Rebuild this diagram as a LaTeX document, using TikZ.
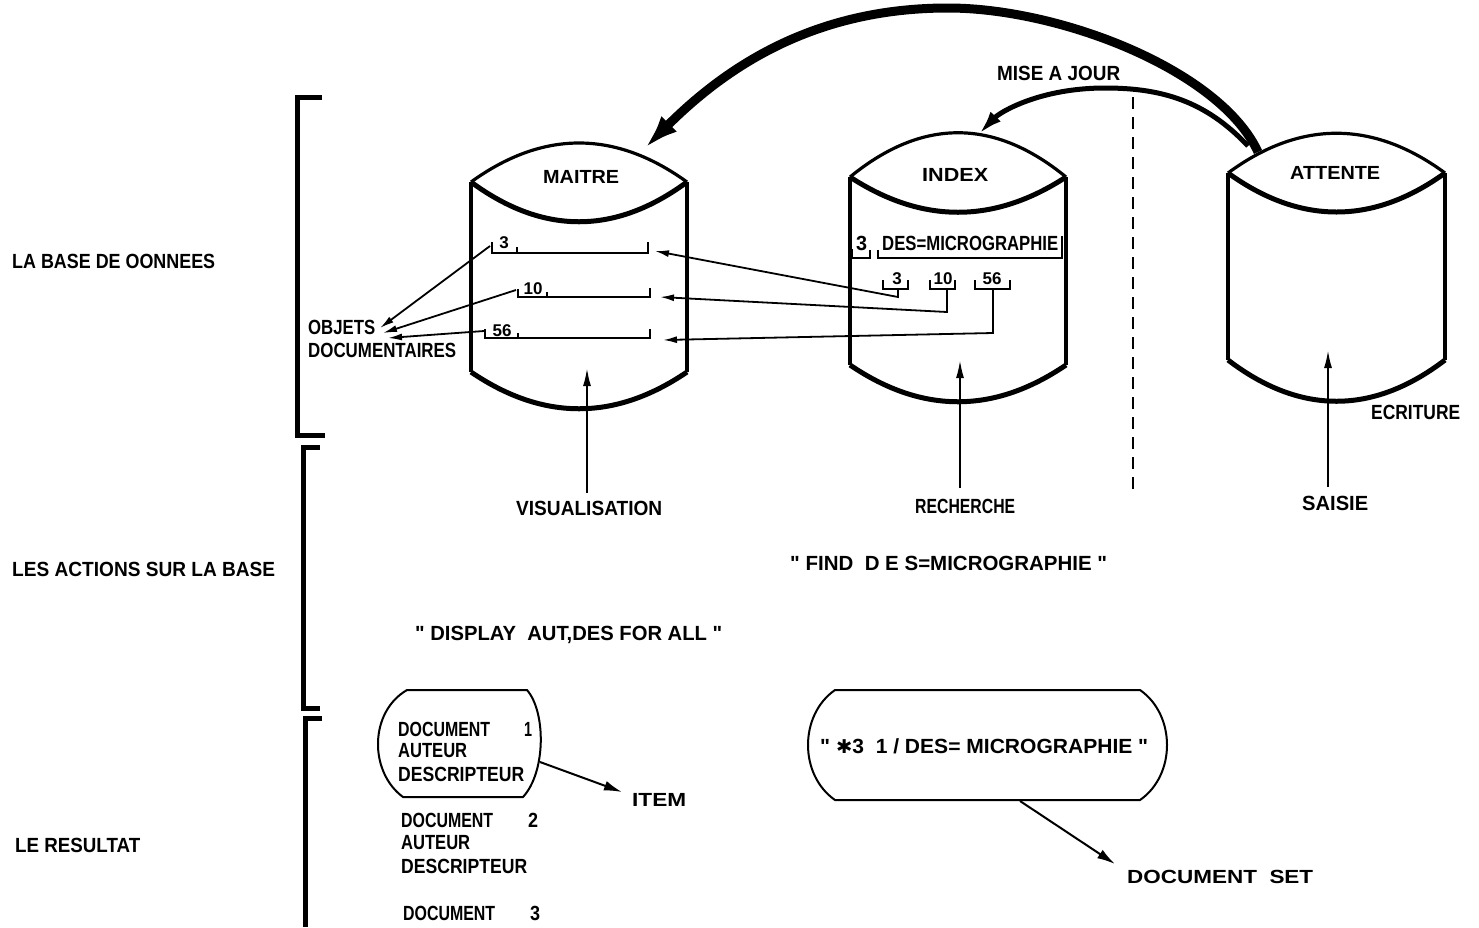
\documentclass[tikz,border=0pt]{standalone}
\usepackage{fontspec}
\setmainfont{Liberation Sans}[Ligatures=TeXOff]
\newfontfamily\symfont{DejaVu Sans}
\usepackage{graphicx}
\usetikzlibrary{arrows.meta}
\newcommand\tw[2]{\resizebox{#1pt}{\height}{#2}}
\newcommand\qq{\symbol{34}}
\begin{document}
\begin{tikzpicture}[x=1pt,y=-1pt,
  lbl/.style={inner sep=0pt, anchor=west, font=\bfseries\fontsize{20.5}{22}\selectfont},
  hdr/.style={inner sep=0pt, anchor=west, font=\bfseries\fontsize{19}{21}\selectfont},
  num/.style={inner sep=0pt, font=\bfseries\fontsize{17}{18}\selectfont},
  brk/.style={line width=5pt},
  cyl/.style={line width=3.2pt, line join=round},
  cylthick/.style={line width=5pt},
  rec/.style={line width=2.4pt},
  conn/.style={line width=1.8pt, -{Latex[length=14pt,width=7pt]}},
  conn2/.style={line width=2pt, -{Latex[length=18pt,width=10pt]}},
  uparr/.style={line width=2pt, -{Latex[length=18pt,width=8pt]}},
  bigarc/.style={line width=9pt, -{Latex[length=34pt,width=22pt]}},
  midarc/.style={line width=5pt, -{Latex[length=24pt,width=14pt]}},
  dsh/.style={line width=2pt, dash pattern=on 12pt off 8pt},
  res/.style={line width=2pt}]
\useasboundingbox (0,0) rectangle (1479,927);

% section brackets
\draw[brk] (322,97) -- (297,97) -- (297,435) -- (325,435);
\draw[brk] (320,447) -- (303,447) -- (303,708) -- (320,708);
\draw[brk] (322,718) -- (305,718) -- (305,927);

% left labels
\node[lbl] (lbase) at (12,261) {\tw{203}{LA BASE DE OONNEES}};
\node[lbl] (lact) at (12,569) {\tw{263}{LES ACTIONS SUR LA BASE}};
\node[lbl] (lres) at (15,845) {\tw{125}{LE RESULTAT}};

% MAITRE cylinder
\draw[cyl] (471,182) .. controls (543,130) and (615,130) .. (687,182);
\draw[cylthick] (471,182) .. controls (543,235) and (615,235) .. (687,182);
\draw[cyl] (471,182) -- (471,372);
\draw[cyl] (687,182) -- (687,372);
\draw[cylthick] (471,372) .. controls (543,421) and (615,421) .. (687,372);
\node[hdr] (tmaitre) at (543,177) {\tw{76}{MAITRE}};

% INDEX cylinder
\draw[cyl] (850,177) .. controls (922,118) and (994,118) .. (1066,177);
\draw[cylthick] (850,177) .. controls (922,224) and (994,224) .. (1066,177);
\draw[cyl] (850,177) -- (850,365);
\draw[cyl] (1066,177) -- (1066,365);
\draw[cylthick] (850,365) .. controls (922,414) and (994,414) .. (1066,365);
\node[hdr] (tindex) at (922,175) {\tw{66}{INDEX}};

% ATTENTE cylinder
\draw[cyl] (1228,173) .. controls (1300,120) and (1373,120) .. (1445,173);
\draw[cylthick] (1228,173) .. controls (1300,225) and (1373,225) .. (1445,173);
\draw[cyl] (1228,173) -- (1228,360);
\draw[cyl] (1445,173) -- (1445,360);
\draw[cylthick] (1228,360) .. controls (1300,415) and (1373,415) .. (1445,360);
\node[hdr] (tattente) at (1290,173) {\tw{90}{ATTENTE}};

% MAITRE records
\draw[rec] (492,242) -- (492,253) -- (648,253) -- (648,242);
\draw[rec] (517,247) -- (517,253);
\node[num] (n3m) at (504,243) {3};
\draw[rec] (518,289) -- (518,297) -- (650,297) -- (650,288);
\draw[rec] (547,292) -- (547,297);
\node[num] (n10m) at (533,289) {10};
\draw[rec] (485,329) -- (485,338) -- (650,338) -- (650,329);
\draw[rec] (518,333) -- (518,338);
\node[num] (n56m) at (502,331) {56};

% INDEX records
\draw[rec] (852,249) -- (852,258) -- (870,258) -- (870,250);
\draw[rec] (878,250) -- (878,258) -- (1062,258) -- (1062,236);
\node[lbl] (i3h) at (856,243) {\tw{11}{3}};
\node[lbl] (ides) at (882,243) {\tw{176}{DES=MICROGRAPHIE}};
\draw[rec] (883,280) -- (883,289) -- (908,289) -- (908,280);
\draw[rec] (930,280) -- (930,289) -- (955,289) -- (955,280);
\draw[rec] (975,280) -- (975,289) -- (1010,289) -- (1010,280);
\node[num] (n3i) at (897,279) {3};
\node[num] (n10i) at (943,279) {10};
\node[num] (n56i) at (992,279) {56};

% connectors index -> maitre
\coordinate (i3) at (898,289);
\coordinate (i10) at (947,289);
\coordinate (i56) at (993,289);
\coordinate (m1) at (655,251);
\coordinate (m2) at (660,297);
\coordinate (m3) at (663,340);
\draw[conn] (i3) -- ++(0,8) -- (m1);
\draw[conn] (i10) -- ++(0,23) -- (m2);
\draw[conn] (i56) -- ++(0,44) -- (m3);

% objets documentaires
\node[lbl] (tobj) at (308,327) {\tw{67}{OBJETS}};
\node[lbl] (tdoc) at (308,350) {\tw{148}{DOCUMENTAIRES}};
\coordinate (r1) at (490,246);
\coordinate (r2) at (516,290);
\coordinate (r3) at (484,331);
\coordinate (o1) at (380,328);
\coordinate (o2) at (383,333);
\coordinate (o3) at (388,338);
\draw[conn] (r1) -- (o1);
\draw[conn] (r2) -- (o2);
\draw[conn] (r3) -- (o3);

% big arc ATTENTE -> MAITRE
\coordinate (attA) at (1258,152);
\coordinate (maitreT) at (645,148);
\draw[bigarc] (attA) .. controls (1220,70) and (1060,8) .. (948,8) .. controls (818,8) and (730,63) .. (maitreT);

% mise a jour arc ATTENTE -> INDEX
\coordinate (attB) at (1248,146);
\coordinate (indexT) at (979,134);
\draw[midarc] (attB) .. controls (1205,100) and (1160,88) .. (1105,88) .. controls (1040,88) and (1000,112) .. (indexT);
\node[lbl] (tmise) at (997,73) {\tw{123}{MISE A JOUR}};

% dashed separator
\coordinate (dtop) at (1133,97);
\coordinate (dbot) at (1133,490);
\draw[dsh] (dtop) -- (dbot);

% vertical action arrows
\coordinate (vis0) at (587,493);
\coordinate (vis1) at (587,368);
\coordinate (rec0) at (960,488);
\coordinate (rec1) at (960,360);
\coordinate (sai0) at (1328,487);
\coordinate (sai1) at (1328,350);
\draw[uparr] (vis0) -- (vis1);
\draw[uparr] (rec0) -- (rec1);
\draw[uparr] (sai0) -- (sai1);
\node[lbl] (tvis) at (516,508) {\tw{146}{VISUALISATION}};
\node[lbl] (trech) at (915,506) {\tw{100}{RECHERCHE}};
\node[lbl] (tsais) at (1302,503) {\tw{66}{SAISIE}};
\node[lbl] (tecr) at (1371,412) {\tw{89}{ECRITURE}};

% commands
\node[lbl] (tfind) at (790,563) {\tw{317}{\qq\ FIND\ \ D E S=MICROGRAPHIE \qq}};
\node[lbl] (tdisp) at (415,635) {\tw{307}{\qq\ DISPLAY\ \ AUT,DES FOR ALL \qq}};

% result: item list
\draw[res] (407,690) -- (527,690) .. controls (546,712) and (546,772) .. (523,797) -- (403,797) .. controls (369,772) and (369,712) .. (407,690) -- cycle;
\node[lbl] (d1a) at (398,729) {\tw{92}{DOCUMENT}};
\node[lbl] (d1n) at (524,729) {\tw{8}{1}};
\node[lbl] (d1b) at (398,751) {\tw{69}{AUTEUR}};
\node[lbl] (d1c) at (398,774) {\tw{126}{DESCRIPTEUR}};
\node[lbl] (d2a) at (401,820) {\tw{92}{DOCUMENT}};
\node[lbl] (d2n) at (528,820) {\tw{10}{2}};
\node[lbl] (d2b) at (401,843) {\tw{69}{AUTEUR}};
\node[lbl] (d2c) at (401,866) {\tw{126}{DESCRIPTEUR}};
\node[lbl] (d3a) at (403,913) {\tw{92}{DOCUMENT}};
\node[lbl] (d3n) at (530,913) {\tw{10}{3}};
\coordinate (itemS) at (540,762);
\coordinate (itemE) at (622,792);
\draw[conn2] (itemS) -- (itemE);
\node[hdr] (titem) at (632,800) {\tw{54}{ITEM}};

% result: document set
\draw[res] (835,690) -- (1140,690) .. controls (1176,715) and (1176,775) .. (1140,800) -- (835,800) .. controls (799,775) and (799,715) .. (835,690) -- cycle;
\node[lbl] (tset) at (820,746) {\tw{328}{\qq\ {\symfont\fontsize{19}{20}\selectfont ✱}3\ \ 1 / DES= MICROGRAPHIE \qq}};
\coordinate (setS) at (1020,801);
\coordinate (setE) at (1115,864);
\draw[conn2] (setS) -- (setE);
\node[hdr] (tdocset) at (1127,877) {\tw{186}{DOCUMENT\ \ SET}};
\end{tikzpicture}
\end{document}
